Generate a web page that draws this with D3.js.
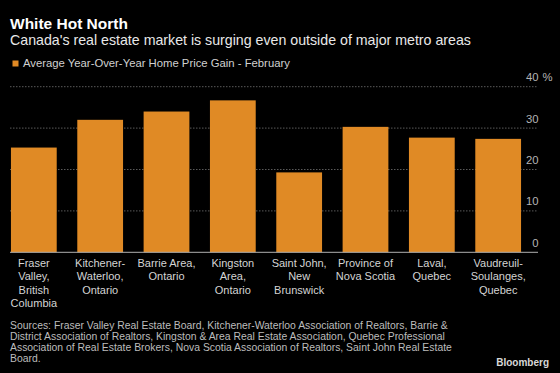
<!DOCTYPE html>
<html>
<head>
<meta charset="utf-8">
<script src="https://cdn.jsdelivr.net/npm/d3@7"></script>
<style>
  body { margin: 0; background: #000; }
  svg { display: block; background: #000; font-family: "Liberation Sans", Arial, sans-serif; }
</style>
</head>
<body>
<div id="barChart"></div>
<script>
// categories (label lines as they wrap in the picture)
var regions = ["Fraser Valley", "Kitchener-Waterloo", "Barrie Area", "Kingston Area",
               "Saint John", "Province of Nova Scotia", "Laval", "Vaudreuil-Soulanges"];
var regionLines = [
  ["Fraser", "Valley,", "British", "Columbia"],
  ["Kitchener-", "Waterloo,", "Ontario"],
  ["Barrie Area,", "Ontario"],
  ["Kingston", "Area,", "Ontario"],
  ["Saint John,", "New", "Brunswick"],
  ["Province of", "Nova Scotia"],
  ["Laval,", "Quebec"],
  ["Vaudreuil-", "Soulanges,", "Quebec"]
];
// average y/y home price gain, February (%)
var priceGain = [25.3, 32.0, 34.0, 36.7, 19.3, 30.3, 27.7, 27.4];
var yTicks = [0, 10, 20, 30, 40];

var sourceLines = [
  "Sources: Fraser Valley Real Estate Board, Kitchener-Waterloo Association of Realtors, Barrie &",
  "District Association of Realtors, Kingston & Area Real Estate Association, Quebec Professional",
  "Association of Real Estate Brokers, Nova Scotia Association of Realtors, Saint John Real Estate",
  "Board."
];

var width = 560, height = 373;
var barColor = "#e08a25";

var svg = d3.select("#barChart")
  .append("svg")
    .attr("width", width)
    .attr("height", height);

var x = d3.scaleBand()
  .domain(regions)
  .range([1, 531])
  .paddingInner(0.31)
  .paddingOuter(0.15);

var y = d3.scaleLinear()
  .domain([0, 40])
  .range([252.3, 86.7]);

// title block
svg.append("text")
  .text("White Hot North")
  .attr("x", 10).attr("y", 28.5)
  .attr("fill", "#fff")
  .attr("font-size", "15.5px")
  .attr("font-weight", "bold");

svg.append("text")
  .text("Canada's real estate market is surging even outside of major metro areas")
  .attr("x", 10).attr("y", 44.5)
  .attr("fill", "#e8e8e8")
  .attr("font-size", "14.2px");

// legend
svg.append("rect")
  .attr("x", 12.5).attr("y", 60.5)
  .attr("width", 6).attr("height", 6)
  .attr("fill", barColor);

svg.append("text")
  .text("Average Year-Over-Year Home Price Gain - February")
  .attr("x", 23).attr("y", 66.5)
  .attr("fill", "#d0d0d0")
  .attr("font-size", "11.3px");

// gridlines
svg.append("g")
  .selectAll("line")
  .data(yTicks.slice(1))
  .enter()
  .append("line")
    .attr("x1", 10).attr("x2", 538)
    .attr("y1", function (d) { return y(d); })
    .attr("y2", function (d) { return y(d); })
    .attr("stroke", "#5a5a5a")
    .attr("stroke-width", 1)
    .attr("stroke-dasharray", "1.5,1.5");

// bars
svg.append("g")
  .selectAll("rect")
  .data(priceGain)
  .enter()
  .append("rect")
    .attr("x", function (d, i) { return x(regions[i]); })
    .attr("y", function (d) { return y(d); })
    .attr("width", x.bandwidth())
    .attr("height", function (d) { return y(0) - y(d); })
    .attr("fill", barColor);

// baseline
svg.append("line")
  .attr("x1", 10).attr("x2", 538)
  .attr("y1", y(0)).attr("y2", y(0))
  .attr("stroke", "#b0b0b0")
  .attr("stroke-width", 1);

// y tick labels, right side above the gridline
var ticks = svg.append("g");
ticks.selectAll("text")
  .data(yTicks)
  .enter()
  .append("text")
    .text(function (d) { return d; })
    .attr("x", 538.5)
    .attr("y", function (d) { return y(d) - 5.5; })
    .attr("text-anchor", "end")
    .attr("fill", "#b4b4b4")
    .attr("font-size", "11.3px");

ticks.append("text")
  .text("%")
  .attr("x", 542.5)
  .attr("y", y(40) - 5.5)
  .attr("fill", "#b4b4b4")
  .attr("font-size", "11.3px");

// category labels
var labels = svg.append("g");
labels.selectAll("text")
  .data(regionLines)
  .enter()
  .append("text")
    .attr("text-anchor", "middle")
    .attr("fill", "#d4d4d4")
    .attr("font-size", "11px")
    .attr("x", function (d, i) { return x(regions[i]) + x.bandwidth() / 2; })
    .attr("y", 267)
  .selectAll("tspan")
  .data(function (d) { return d; })
  .enter()
  .append("tspan")
    .attr("x", function () { return d3.select(this.parentNode).attr("x"); })
    .attr("dy", function (d, j) { return j == 0 ? 0 : 13.4; })
    .text(function (d) { return d; });

// sources
svg.append("g")
  .selectAll("text")
  .data(sourceLines)
  .enter()
  .append("text")
    .text(function (d) { return d; })
    .attr("x", 10)
    .attr("y", function (d, i) { return 329 + i * 10.9; })
    .attr("fill", "#bdbdbd")
    .attr("font-size", "10.4px");

svg.append("text")
  .text("Bloomberg")
  .attr("x", 549)
  .attr("y", 366)
  .attr("text-anchor", "end")
  .attr("fill", "#d8d8d8")
  .attr("font-size", "10px")
  .attr("font-weight", "bold");
</script>
</body>
</html>
